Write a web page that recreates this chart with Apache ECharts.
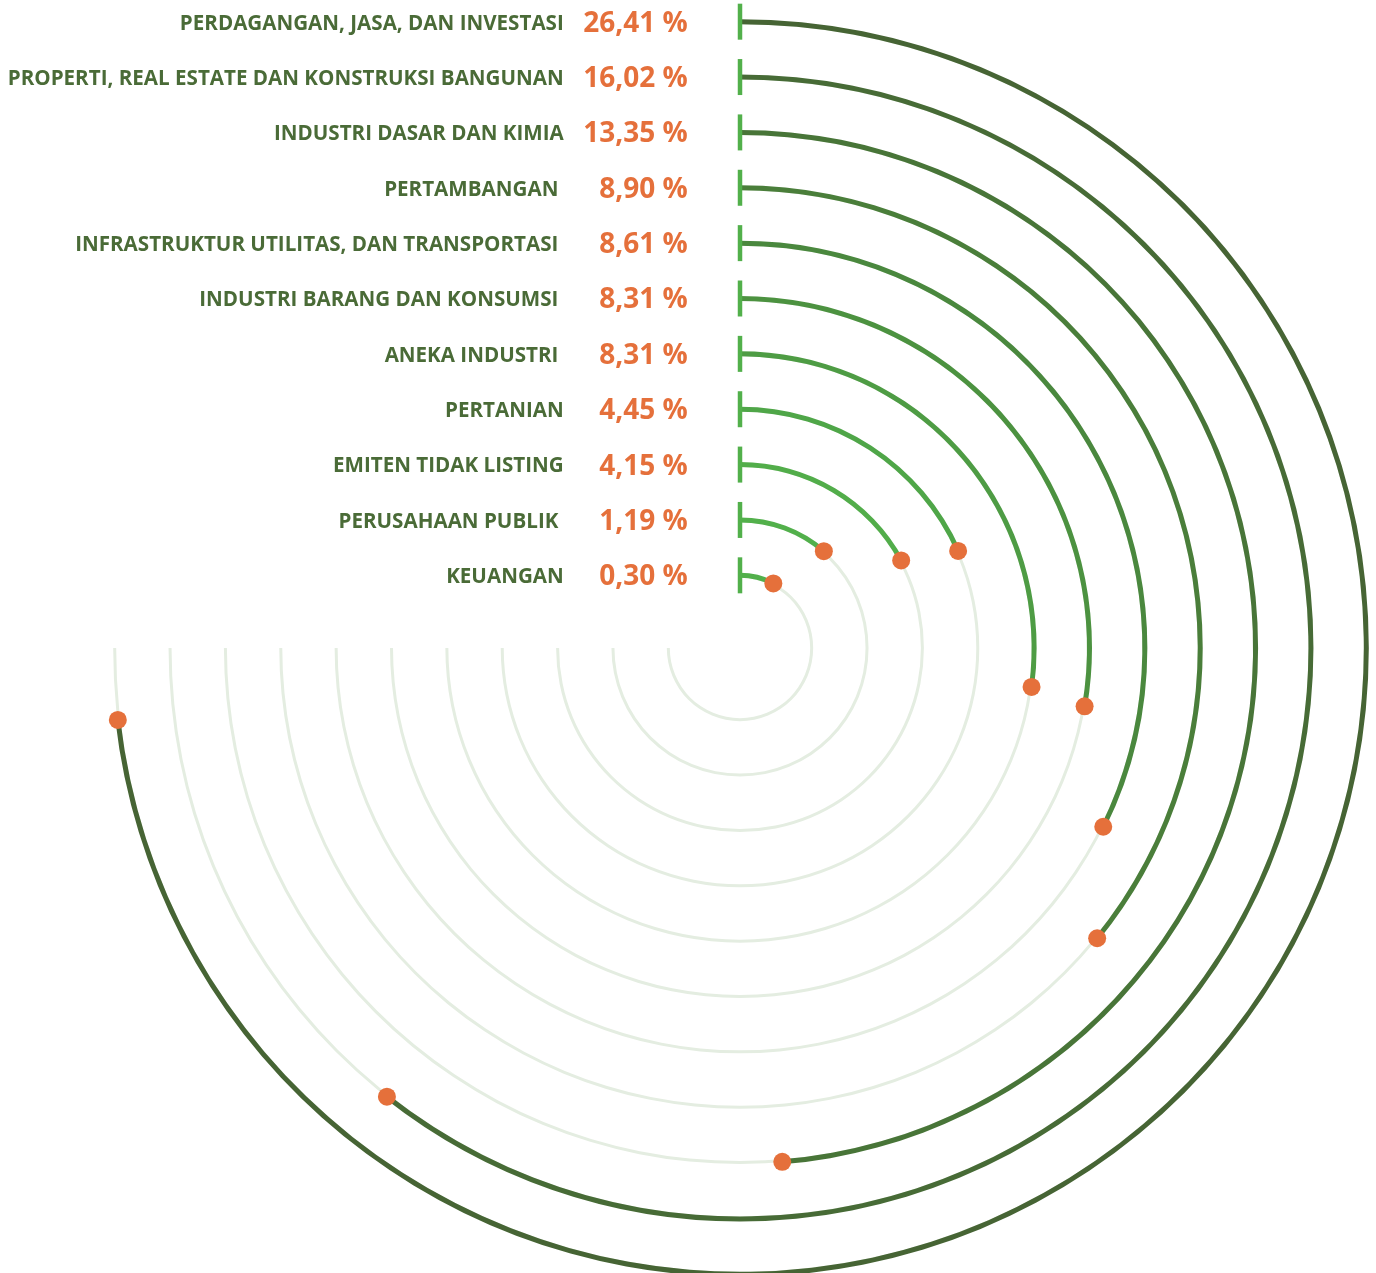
<!DOCTYPE html>
<html>
<head>
<meta charset="utf-8">
<script src="https://cdn.jsdelivr.net/npm/echarts@6/dist/echarts.min.js"></script>
<style>
  html, body { margin: 0; padding: 0; background: #fff; }
  #chart { width: 1376px; height: 1273px; }
</style>
</head>
<body>
<div id="chart"></div>
<script>
// sektor, dari lingkaran terluar ke terdalam
var sectors = [
  'PERDAGANGAN, JASA, DAN INVESTASI',
  'PROPERTI, REAL ESTATE DAN KONSTRUKSI BANGUNAN',
  'INDUSTRI DASAR DAN KIMIA',
  'PERTAMBANGAN ',
  'INFRASTRUKTUR UTILITAS, DAN TRANSPORTASI ',
  'INDUSTRI BARANG DAN KONSUMSI ',
  'ANEKA INDUSTRI ',
  'PERTANIAN',
  'EMITEN TIDAK LISTING',
  'PERUSAHAAN PUBLIK ',
  'KEUANGAN'
];
var percents = ['26,41', '16,02', '13,35', '8,90', '8,61', '8,31', '8,31', '4,45', '4,15', '1,19', '0,30'];
// panjang busur (derajat) seperti yang digambar
var sweeps = [263.4, 218.2, 175.3, 129.1, 116.2, 99.6, 97.6, 66, 61.5, 40.9, 27.3];
var trackMax = 270;

var ringColors = ['#466434', '#476b36', '#487538', '#4a7e3a', '#4a883e', '#4c9240', '#4e9c44', '#4fa648', '#52ad4a', '#52b04b', '#52b04b'];

// sumbu radius: indeks 0 = lingkaran paling dalam
var cats = sectors.slice().reverse();
var byRing = function (arr) { return arr.slice().reverse(); };

var myChart = echarts.init(document.getElementById('chart'));
myChart.setOption({
  animation: false,
  polar: {
    center: [740, 648],
    radius: [45, 654]
  },
  angleAxis: {
    type: 'value',
    min: 0,
    max: 360,
    startAngle: 90,
    clockwise: true,
    show: false
  },
  radiusAxis: {
    type: 'category',
    data: cats,
    show: false
  },
  series: [
    {
      // jalur latar belakang
      type: 'bar',
      coordinateSystem: 'polar',
      barWidth: 3,
      silent: true,
      z: 1,
      itemStyle: { color: '#e4ede1' },
      data: cats.map(function () { return trackMax; })
    },
    {
      type: 'bar',
      coordinateSystem: 'polar',
      barWidth: 5,
      barGap: '-100%',
      z: 2,
      data: byRing(sweeps).map(function (v, i) {
        return { value: v, itemStyle: { color: byRing(ringColors)[i] } };
      })
    },
    {
      // garis awal + label
      type: 'scatter',
      coordinateSystem: 'polar',
      symbol: 'rect',
      symbolSize: [4.5, 36],
      itemStyle: { color: '#52b04b', opacity: 1 },
      z: 3,
      label: {
        show: true,
        position: 'left',
        distance: 50,
        offset: [0, 2],
        formatter: function (p) {
          return '{n|' + p.name + '}{p|' + p.data.pct + ' %}';
        },
        rich: {
          n: {
            fontFamily: 'Open Sans',
            fontWeight: 'bold',
            fontSize: 20.6,
            color: '#4a6b37',
            padding: [0, 6, 0, 0]
          },
          p: {
            fontFamily: 'Open Sans',
            fontWeight: 'bold',
            fontSize: 28,
            color: '#e5703b',
            width: 118,
            align: 'right'
          }
        }
      },
      data: cats.map(function (c, i) {
        return { name: c, value: [c, 0], pct: byRing(percents)[i] };
      })
    },
    {
      // titik ujung
      type: 'scatter',
      coordinateSystem: 'polar',
      symbolSize: 18,
      itemStyle: { color: '#e5703b', opacity: 1 },
      z: 4,
      data: cats.map(function (c, i) { return [c, byRing(sweeps)[i]]; })
    }
  ]
});
</script>
</body>
</html>
